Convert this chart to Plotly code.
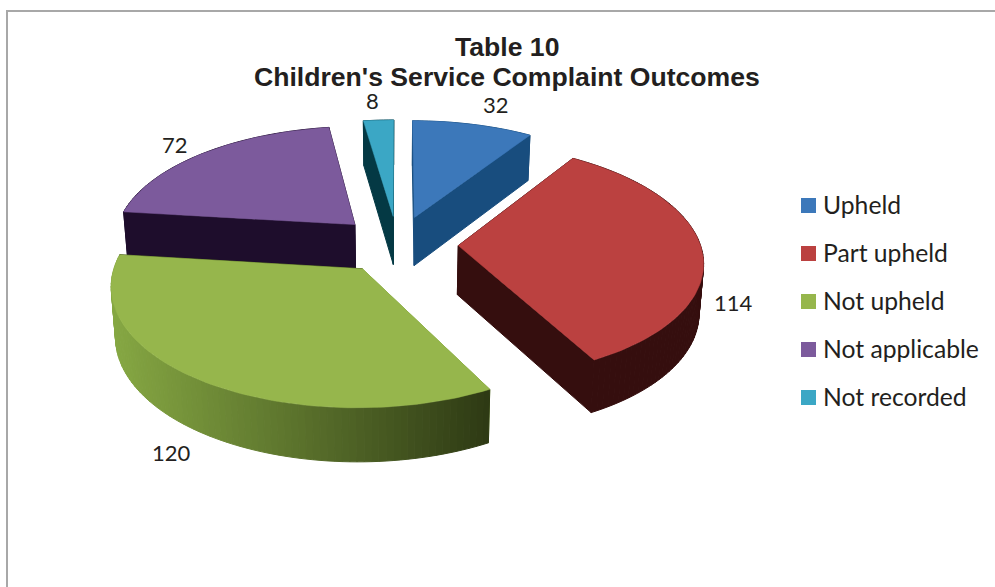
import math
import plotly.graph_objects as go

# Complaint counts per outcome
categories = ["Upheld", "Part upheld", "Not upheld", "Not applicable", "Not recorded"]
values = [32, 114, 120, 72, 8]

title_lines = ["Table 10", "Children's Service Complaint Outcomes"]

# Slice styling: top face, wall at the left of the rim, wall at the right of the rim
top_colors = ["#3c78ba", "#bb4140", "#96b64c", "#7c5a9c", "#3ba7c5"]
wall_light = ["#184d7e", "#350e0e", "#86a843", "#1e0d2c", "#043944"]
wall_dark = ["#184d7e", "#350e0e", "#2e3a14", "#1e0d2c", "#043944"]
text_color = "#231f20"

# Pie projection, in page pixels
CX, CY = 397.5, 244.3
RX, RY = 242.0, 115.0
EXPLODE = 0.251
PERSPECTIVE = 0.125
DEPTH = 49.0
BASE_SHRINK = 0.985
ARC_STEP = 1.5

# Data label anchors and legend layout, in page pixels
label_xy = [(496, 104), (733, 302), (171, 452), (175, 144), (372, 100.5)]
legend_x, legend_y0, legend_dy, legend_text_x = 808.5, 205.5, 48.0, 820.5


def project(gx, gy, lower=False):
    """Map a ground-plane point (pie radius = 1) to page pixels, on the top or base face."""
    s = 1.0 / (1.0 - PERSPECTIVE * gy)
    x = CX + RX * gx * s
    y = CY + RY * gy * s
    if lower:
        x = CX + (x - CX) * BASE_SHRINK
        y += DEPTH * s ** 0.6
    return x, y


def ground(theta_deg, mid_deg, radius=1.0):
    t, m = math.radians(theta_deg), math.radians(mid_deg)
    return (radius * math.sin(t) + EXPLODE * math.sin(m),
            -radius * math.cos(t) - EXPLODE * math.cos(m))


def lerp_hex(a, b, f):
    ca = [int(a[i:i + 2], 16) for i in (1, 3, 5)]
    cb = [int(b[i:i + 2], 16) for i in (1, 3, 5)]
    return "#" + "".join(f"{round(p + (q - p) * f):02x}" for p, q in zip(ca, cb))


def polygon(points, color, width=1.0):
    xs = [p[0] for p in points] + [points[0][0]]
    ys = [p[1] for p in points] + [points[0][1]]
    return go.Scatter(x=xs, y=ys, mode="lines", fill="toself", fillcolor=color,
                      line=dict(color=color, width=width), hoverinfo="skip", showlegend=False)


# Slice angles, clockwise from twelve o'clock
total = sum(values)
slices = []
angle = 0.0
for i, v in enumerate(values):
    sweep = 360.0 * v / total
    slices.append(dict(i=i, start=angle, end=angle + sweep, mid=angle + sweep / 2))
    angle += sweep

# Far slices first so nearer ones paint over them
slices.sort(key=lambda s: -math.cos(math.radians(s["mid"])))

fig = go.Figure()

for s in slices:
    i = s["i"]
    n = max(2, int(math.ceil((s["end"] - s["start"]) / ARC_STEP)))
    thetas = [s["start"] + (s["end"] - s["start"]) * k / n for k in range(n + 1)]
    rim = [ground(t, s["mid"]) for t in thetas]
    hub = ground(0.0, s["mid"], radius=0.0)

    walls = []
    for a, b in ((hub, rim[0]), (hub, rim[-1])):
        walls.append(([project(*a), project(*b), project(*b, lower=True), project(*a, lower=True)],
                      wall_dark[i] if b is rim[-1] else wall_light[i]))
    for a, b in zip(rim[:-1], rim[1:]):
        quad = [project(*a), project(*b), project(*b, lower=True), project(*a, lower=True)]
        mid_x = (quad[0][0] + quad[1][0]) / 2
        f = min(1.0, max(0.0, (mid_x - 112) / (488 - 112)))
        walls.append((quad, lerp_hex(wall_light[i], wall_dark[i], f)))

    # Walls nearest the viewer go on last; the top face closes the prism
    walls.sort(key=lambda w: sum(p[1] for p in w[0]) / 4)
    for quad, color in walls:
        fig.add_trace(polygon(quad, color))
    fig.add_trace(polygon([project(*hub)] + [project(*p) for p in rim], top_colors[i], width=0.5))

# Legend swatches
fig.add_trace(go.Scatter(
    x=[legend_x] * len(categories),
    y=[legend_y0 + legend_dy * k for k in range(len(categories))],
    mode="markers",
    marker=dict(symbol="square", size=15, color=top_colors, line=dict(width=0)),
    hoverinfo="skip", showlegend=False,
))

annotations = []
for k, name in enumerate(categories):
    annotations.append(dict(x=legend_text_x, y=legend_y0 + legend_dy * k - 1, text=name,
                            xanchor="left", yanchor="middle", showarrow=False,
                            font=dict(family="Lato", size=24.7, color=text_color)))
for v, (x, y) in zip(values, label_xy):
    annotations.append(dict(x=x, y=y, text=str(v), xanchor="center", yanchor="middle",
                            showarrow=False,
                            font=dict(family="Lato", size=22, color=text_color)))
for line, y in zip(title_lines, (47, 76.5)):
    annotations.append(dict(x=506.5, y=y, text=f"<b>{line}</b>", xanchor="center", yanchor="middle",
                            showarrow=False,
                            font=dict(family="Liberation Sans", size=26.6, color=text_color)))

# Chart frame: top and left rules only
frame = dict(type="line", xref="x", yref="y", line=dict(color="#a8a8a8", width=2))
shapes = [dict(frame, x0=6, x1=995, y0=11, y1=11), dict(frame, x0=7, x1=7, y0=10, y1=587)]

fig.update_layout(
    width=995, height=587, margin=dict(l=0, r=0, t=0, b=0),
    paper_bgcolor="white", plot_bgcolor="white", showlegend=False,
    xaxis=dict(range=[0, 995], visible=False, fixedrange=True),
    yaxis=dict(range=[587, 0], visible=False, fixedrange=True),
    annotations=annotations, shapes=shapes,
)

fig.write_html("out.html", config={"displayModeBar": False})
